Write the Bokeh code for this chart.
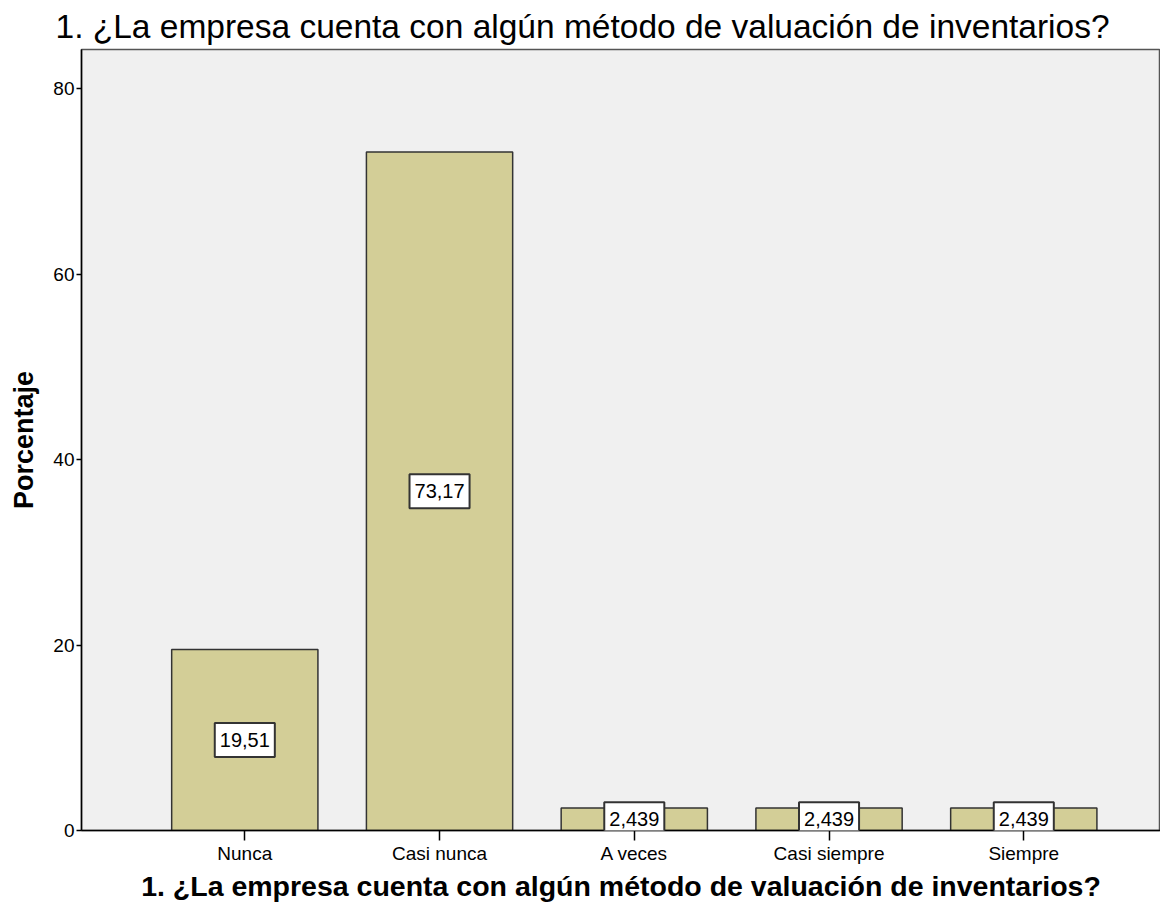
from bokeh.plotting import figure
from bokeh.models import ColumnDataSource, FixedTicker, Range1d, Label
from bokeh.embed import file_html
from bokeh.resources import INLINE

categories = ["Nunca", "Casi nunca", "A veces", "Casi siempre", "Siempre"]
percent = [19.51, 73.17, 2.439, 2.439, 2.439]
labels = ["19,51", "73,17", "2,439", "2,439", "2,439"]
y_ticks = [0, 20, 40, 60, 80]
title_text = "1. ¿La empresa cuenta con algún método de valuación de inventarios?"

xs = list(range(len(categories)))
src = ColumnDataSource(dict(x=xs, top=percent))

FONT = "Liberation Sans"

p = figure(width=1160, height=904, output_backend="svg", toolbar_location=None,
           x_range=Range1d(-0.8385, 4.702), y_range=Range1d(0, 84.21),
           min_border_left=81, min_border_right=0, min_border_bottom=0, min_border_top=45)

p.title.text = title_text
p.title.text_font = FONT
p.title.text_font_size = "33.5px"
p.title.text_font_style = "normal"
p.title.align = "left"
p.title.offset = -26
p.title.standoff = 10
p.title.text_color = "#000000"

p.background_fill_color = "#f0f0f0"
p.border_fill_color = "#ffffff"
p.outline_line_color = "#555555"
p.outline_line_width = 1.5
p.xgrid.visible = False
p.ygrid.visible = False

p.vbar(x="x", top="top", width=0.751, source=src, fill_color="#d3ce97",
       line_color="#333333", line_width=1.5)

for xi, v, lab in zip(xs, percent, labels):
    p.add_layout(Label(x=xi, y=v / 2, text=lab, text_align="center", text_baseline="middle",
                       text_font=FONT, text_font_size="20px", text_color="#000000",
                       background_fill_color="#ffffff", border_line_color="#333333",
                       border_line_width=2, padding=dict(left=5, right=5, top=10, bottom=10)))

p.xaxis.ticker = FixedTicker(ticks=xs)
p.xaxis.major_label_overrides = {i: c for i, c in enumerate(categories)}
p.yaxis.ticker = FixedTicker(ticks=y_ticks)

for ax in (p.xaxis[0], p.yaxis[0]):
    ax.axis_line_color = "#000000"
    ax.axis_line_width = 1.5
    ax.major_tick_line_color = "#000000"
    ax.major_tick_line_width = 1.5
    ax.major_tick_in = 0
    ax.minor_tick_line_color = None
    ax.major_label_text_font = FONT
    ax.major_label_text_font_size = "19px"
    ax.major_label_text_color = "#000000"
    ax.axis_label_text_font = FONT
    ax.axis_label_text_font_style = "bold"
    ax.axis_label_text_color = "#000000"

p.xaxis.major_tick_out = 10
p.xaxis.major_label_standoff = 2
p.xaxis.axis_label = title_text
p.xaxis.axis_label_text_font_size = "28.5px"
p.xaxis.axis_label_standoff = 3

p.yaxis.major_tick_out = 5
p.yaxis.major_label_standoff = 2
p.yaxis.axis_label = "Porcentaje"
p.yaxis.axis_label_text_font_size = "27px"
p.yaxis.axis_label_standoff = 11

open("out.html", "w").write(file_html(p, INLINE))
